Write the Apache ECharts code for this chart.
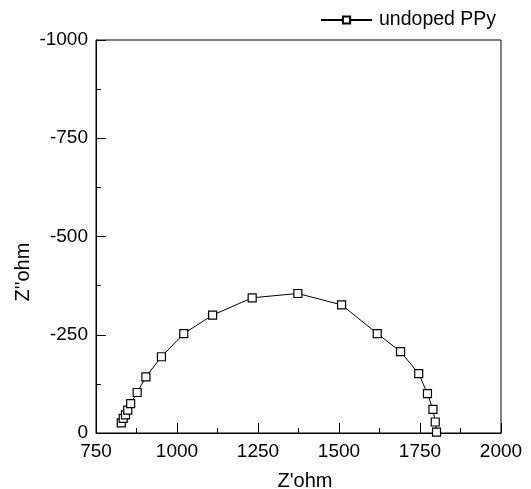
<!DOCTYPE html>
<html>
<head>
<meta charset="utf-8">
<script src="https://cdn.jsdelivr.net/npm/echarts@6/dist/echarts.min.js"></script>
<style>html,body{margin:0;padding:0;background:#fff}#c{width:531px;height:489px}</style>
</head>
<body>
<div id="c"></div>
<script>
var seriesName = 'undoped PPy';
var zReal = [828, 834, 841, 848, 857, 877, 904, 952, 1021, 1110, 1232, 1373, 1508, 1618, 1690, 1746, 1773, 1790, 1797, 1801];
var zImag = [-26, -37, -46, -58, -75, -103, -143, -194, -253, -300, -344, -355, -326, -253, -207, -151, -100, -60, -28, -2];
var xTitle = "Z'ohm";
var yTitle = "Z''ohm";

var data = zReal.map(function (x, i) { return [x, zImag[i]]; });
var font = 'Liberation Sans, Arial, Helvetica, sans-serif';
var plain = function (v) { return String(v); };
var chart = echarts.init(document.getElementById('c'), null, {renderer: 'canvas'});
chart.setOption({
  animation: false,
  backgroundColor: '#fff',
  grid: {left: 96, right: 30, top: 40, bottom: 56, show: true, borderColor: '#000', borderWidth: 1, backgroundColor: 'transparent'},
  legend: {
    left: 320, top: 10, itemWidth: 51, itemHeight: 9, itemGap: 6, padding: 0,
    data: [seriesName],
    textStyle: {fontFamily: font, fontSize: 19.5, color: '#000', padding: [0, 0, 0, 2]}
  },
  xAxis: {
    type: 'value', min: 750, max: 2000, interval: 250,
    axisLine: {lineStyle: {color: '#000', width: 1}},
    axisTick: {inside: true, length: 10, lineStyle: {color: '#000'}},
    minorTick: {show: true, splitNumber: 2, length: 5, lineStyle: {color: '#000'}},
    splitLine: {show: false},
    axisLabel: {fontFamily: font, fontSize: 19, color: '#000', margin: 9, formatter: plain}
  },
  yAxis: {
    type: 'value', min: -1000, max: 0, interval: 250, inverse: true,
    axisLine: {lineStyle: {color: '#000', width: 1}},
    axisTick: {inside: true, length: 10, lineStyle: {color: '#000'}},
    minorTick: {show: true, splitNumber: 2, length: 5, lineStyle: {color: '#000'}},
    splitLine: {show: false},
    axisLabel: {fontFamily: font, fontSize: 19, color: '#000', margin: 8, formatter: plain}
  },
  graphic: [
    {type: 'text', x: 305, y: 481, style: {text: xTitle, fontFamily: font, fontSize: 20, fill: '#000', textAlign: 'center', textVerticalAlign: 'middle'}},
    {type: 'text', x: 23, y: 272, rotation: Math.PI / 2, style: {text: yTitle, fontFamily: font, fontSize: 20, fill: '#000', textAlign: 'center', textVerticalAlign: 'middle'}}
  ],
  series: [{
    name: seriesName, type: 'line', data: data,
    symbol: 'rect', symbolSize: 8, showAllSymbol: true,
    lineStyle: {color: '#000', width: 1},
    itemStyle: {color: '#fff', borderColor: '#000', borderWidth: 1.2}
  }]
});
</script>
</body>
</html>
